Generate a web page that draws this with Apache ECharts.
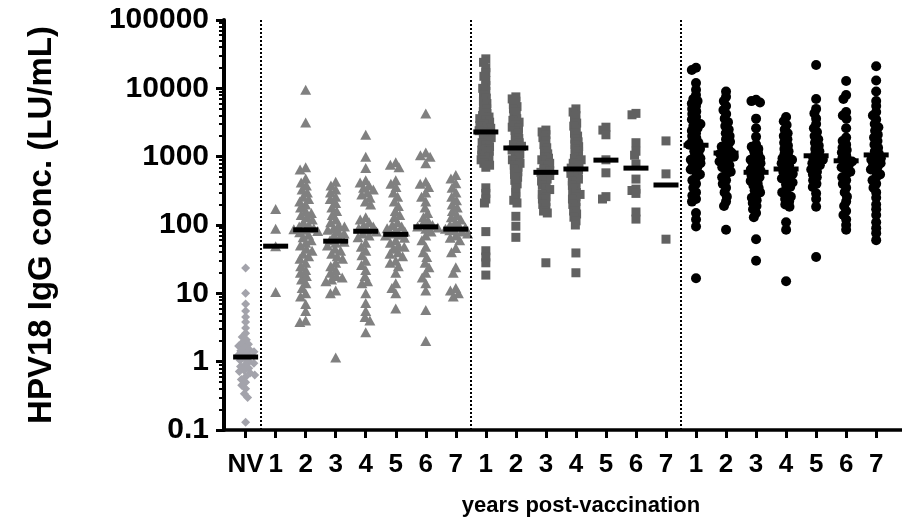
<!DOCTYPE html>
<html><head><meta charset="utf-8">
<script src="https://cdn.jsdelivr.net/npm/echarts@6/dist/echarts.min.js"></script>
<style>html,body{margin:0;padding:0;background:#fff}#c{width:902px;height:519px}</style>
</head><body><div id="c"></div>
<script>
// ---------------- data ----------------
const categories = ['NV','1','2','3','4','5','6','7','1','2','3','4','5','6','7','1','2','3','4','5','6','7'];
const yTicks = [0.1, 1, 10, 100, 1000, 10000, 100000];
const yMinorTicks = [0.2,0.3,0.4,0.5,0.6,0.7,0.8,0.9,2,3,4,5,6,7,8,9,20,30,40,50,60,70,80,90,200,300,400,500,600,700,800,900,2000,3000,4000,5000,6000,7000,8000,9000,20000,30000,40000,50000,60000,70000,80000,90000];

const nvValues = [23.5, 10, 7, 5.5, 4.5, 3.8, 3.1, 2.6, 2.3, 2.1, 1.9, 1.8, 1.7, 1.6, 1.5, 1.45, 1.4, 1.3, 1.25, 1.2, 1.1, 1.05, 1.0, 0.95, 0.9, 0.85, 0.8, 0.75, 0.72, 0.68, 0.64, 0.6, 0.55, 0.5, 0.45, 0.4, 0.34, 0.3, 0.13];

const tri1 = [171, 88, 49, 10.5];
const tri2 = [9500, 3150, 700, 650, 480, 420, 380, 330, 300, 260, 240, 220, 200, 180, 160, 150, 140, 130, 120, 110, 100, 95, 90, 87, 85, 82, 78, 72, 66, 60, 55, 50, 45, 42, 38, 35, 32, 28, 25, 22, 20, 18, 16, 14, 12, 10, 9, 7, 5.5, 4, 3.8];
const tri3 = [430, 380, 330, 300, 260, 240, 210, 180, 160, 140, 120, 110, 100, 95, 90, 85, 80, 75, 70, 65, 60, 57, 55, 50, 45, 42, 38, 35, 32, 28, 25, 22, 20, 18, 17, 16, 15, 11, 10, 1.15];
const tri4 = [2100, 1000, 680, 450, 420, 380, 350, 330, 300, 280, 250, 220, 200, 130, 120, 110, 100, 95, 90, 85, 80, 75, 70, 66, 55, 48, 42, 36, 30, 26, 22, 18, 15, 14, 10, 7.2, 5.5, 4.5, 4, 2.7];
const tri5 = [830, 760, 700, 450, 400, 360, 300, 260, 220, 190, 160, 140, 130, 110, 100, 95, 90, 85, 80, 75, 72, 70, 65, 60, 55, 50, 48, 45, 40, 38, 35, 30, 28, 25, 20, 14, 12, 10, 6];
const tri6 = [4300, 1150, 1050, 1000, 800, 430, 400, 360, 300, 260, 220, 180, 150, 130, 115, 105, 100, 95, 92, 88, 80, 70, 60, 48, 40, 34, 28, 24, 20, 17, 14, 11, 5.7, 2];
const tri7 = [540, 480, 410, 350, 300, 260, 230, 200, 180, 160, 140, 130, 120, 110, 100, 95, 92, 88, 86, 84, 80, 75, 70, 65, 60, 46, 40, 24, 20, 12, 11, 10, 9];

const sq1 = [27000, 24000, 20000, 17000, 15000, 13000, 11000, 10000, 9000, 8000, 7200, 6500, 6000, 5500, 5000, 4600, 4300, 4000, 3800, 3600, 3400, 3200, 3000, 2850, 2700, 2600, 2500, 2400, 2300, 2200, 2100, 2000, 1900, 1800, 1700, 1600, 1500, 1400, 1300, 1250, 1200, 1100, 1050, 1000, 950, 900, 850, 800, 750, 700, 350, 290, 240, 210, 80, 42, 34, 28, 18.5];
const sq2 = [7500, 7000, 6500, 5800, 5400, 5000, 4500, 4000, 3600, 3400, 3200, 2900, 2700, 2600, 2400, 2200, 2000, 1850, 1700, 1600, 1500, 1420, 1330, 1250, 1150, 1100, 1000, 950, 900, 850, 800, 750, 700, 650, 600, 550, 500, 450, 400, 350, 300, 260, 230, 210, 134, 96, 66];
const sq3 = [2450, 2300, 2100, 1900, 1700, 1500, 1350, 1200, 1100, 1000, 950, 900, 850, 800, 750, 700, 650, 620, 590, 560, 530, 500, 470, 440, 410, 380, 350, 330, 300, 280, 260, 240, 220, 200, 180, 160, 150, 28];
const sq4 = [5000, 4500, 4000, 3500, 3100, 2800, 2500, 2200, 2000, 1800, 1650, 1500, 1400, 1300, 1200, 1100, 1000, 950, 900, 850, 800, 750, 700, 680, 640, 600, 570, 540, 500, 470, 440, 410, 380, 350, 320, 300, 280, 260, 240, 220, 200, 180, 160, 145, 130, 115, 100, 39, 20];
const sq5 = [2700, 2450, 2090, 900, 580, 260, 240];
const sq6 = [4300, 4100, 1600, 1200, 1050, 780, 470, 335, 320, 290, 155, 122];
const sq7 = [1700, 560, 62];

const circ1 = [20000, 18500, 12000, 9500, 8000, 7000, 6500, 6000, 5500, 5000, 4600, 4200, 3800, 3500, 3200, 3000, 2800, 2600, 2400, 2200, 2000, 1850, 1700, 1600, 1500, 1400, 1300, 1200, 1100, 1000, 950, 900, 850, 800, 750, 700, 650, 600, 550, 500, 450, 400, 350, 300, 270, 240, 220, 150, 120, 95, 16.6];
const circ2 = [9000, 7500, 6500, 5500, 4800, 4200, 3600, 3200, 2800, 2500, 2200, 2000, 1800, 1650, 1500, 1400, 1300, 1200, 1150, 1100, 1050, 1000, 950, 900, 850, 800, 750, 700, 650, 600, 550, 500, 450, 400, 350, 300, 260, 220, 190, 85];
const circ3 = [6800, 6500, 6200, 3600, 2600, 1950, 1500, 1400, 1300, 1200, 1100, 1000, 950, 900, 850, 800, 750, 700, 650, 620, 560, 530, 500, 470, 440, 410, 380, 350, 320, 300, 270, 250, 230, 210, 190, 170, 150, 130, 62, 30];
const circ4 = [3800, 3300, 2900, 2500, 2200, 2000, 1800, 1600, 1450, 1300, 1200, 1100, 1000, 950, 900, 850, 800, 750, 700, 640, 600, 560, 520, 480, 450, 420, 390, 360, 330, 300, 280, 260, 240, 220, 200, 185, 110, 85, 15];
const circ5 = [22000, 7000, 5000, 4300, 3600, 3000, 2600, 2300, 2000, 1800, 1600, 1450, 1300, 1200, 1100, 1000, 950, 900, 850, 800, 750, 700, 650, 600, 550, 500, 450, 400, 360, 290, 240, 185, 34];
const circ6 = [12800, 8000, 7000, 4500, 4000, 3600, 2600, 1900, 1700, 1500, 1350, 1250, 1150, 1050, 950, 900, 850, 800, 750, 700, 650, 600, 550, 500, 450, 400, 350, 300, 260, 220, 190, 160, 140, 120, 100, 85];
const circ7 = [21000, 13000, 9000, 6500, 5500, 4500, 4000, 3500, 3000, 2700, 2400, 2100, 1900, 1700, 1500, 1350, 1200, 1100, 1000, 950, 900, 850, 800, 750, 700, 650, 600, 550, 500, 450, 400, 350, 300, 250, 200, 170, 140, 110, 90, 76, 60];

// geometric mean bars, per category
const geoMeans = [1.17, 49, 85, 58, 81, 73, 94, 87, 2300, 1340, 590, 660, 890, 680, 385, 1470, 1130, 590, 660, 1030, 870, 1060];

const triangleGroups = [tri1, tri2, tri3, tri4, tri5, tri6, tri7];
const squareGroups = [sq1, sq2, sq3, sq4, sq5, sq6, sq7];
const circleGroups = [circ1, circ2, circ3, circ4, circ5, circ6, circ7];

// ---------------- chart ----------------
const FONT = '"Liberation Sans", Arial, Helvetica, sans-serif';
// category k sits at x = k + 1 on a value axis (keeps 0 out of the range)
const pos = k => k + 1;
const xPositions = categories.map((_, i) => pos(i));
const separators = [pos(0) + 0.5, pos(7) + 0.5, pos(14) + 0.5];

const chart = echarts.init(document.getElementById('c'), null, {renderer: 'canvas'});
const base = {
  animation: false,
  grid: {left: 224, right: 0, top: 20, bottom: 89, containLabel: false, outerBoundsMode: 'none'},
  xAxis: {
    type: 'value', min: 0.28, max: 22.86,
    splitLine: {show: false},
    axisLine: {show: true, onZero: false, lineStyle: {color: '#000', width: 3.5}},
    axisTick: {show: true, customValues: xPositions, length: 8, inside: false, lineStyle: {color: '#000', width: 3}},
    axisLabel: {show: true, customValues: xPositions, formatter: v => categories[Math.round(v) - 1],
      fontFamily: FONT, fontWeight: 'bold', fontSize: 26, color: '#000', margin: 22},
    name: 'years post-vaccination', nameLocation: 'middle', nameGap: 65,
    nameTextStyle: {fontFamily: FONT, fontWeight: 'bold', fontSize: 22, color: '#000', padding: [0, 0, 0, 36]}
  },
  yAxis: [{
    type: 'log', logBase: 10, min: 0.1, max: 100000,
    splitLine: {show: false},
    axisLine: {show: true, onZero: false, lineStyle: {color: '#000', width: 4}},
    axisTick: {show: true, customValues: yTicks, length: 8, lineStyle: {color: '#000', width: 3}},
    axisLabel: {show: true, customValues: yTicks, formatter: v => String(Number(Number(v).toPrecision(6))),
      fontFamily: FONT, fontWeight: 'bold', fontSize: 30, color: '#000', margin: 15},
    name: 'HPV18 IgG conc. (LU/mL)', nameLocation: 'middle', nameRotate: 90, nameGap: 166,
    nameTextStyle: {fontFamily: FONT, fontWeight: 'bold', fontSize: 33, color: '#000'}
  }, {
    type: 'log', logBase: 10, min: 0.1, max: 100000, position: 'left', offset: 0,
    splitLine: {show: false},
    axisLine: {show: false, onZero: false},
    axisTick: {show: true, customValues: yMinorTicks, length: 5, lineStyle: {color: '#000', width: 2}},
    axisLabel: {show: false}
  }],
  series: []
};
chart.setOption(base);

let pxCat = 30.03, pxDec = 68.33;
try {
  const a = chart.convertToPixel({xAxisIndex: 0, yAxisIndex: 0}, [1, 1]);
  const b = chart.convertToPixel({xAxisIndex: 0, yAxisIndex: 0}, [2, 10]);
  if (a && b && isFinite(b[0] - a[0]) && isFinite(a[1] - b[1]) && b[0] - a[0] > 0) { pxCat = b[0] - a[0]; pxDec = a[1] - b[1]; }
} catch (e) {}

// deterministic beeswarm layout (pixel offsets), converted to axis units
function swarm(values, d, maxOff) {
  const pts = values.map(v => ({v, y: Math.log10(v) * pxDec, x: 0}));
  const order = pts.slice().sort((p, q) => q.v - p.v);
  const placed = [];
  order.forEach(p => {
    const cands = [0];
    placed.forEach(q => {
      const dy = p.y - q.y;
      if (Math.abs(dy) < d) { const dx = Math.sqrt(d * d - dy * dy); cands.push(q.x + dx, q.x - dx); }
    });
    cands.sort((s, t) => Math.abs(s) - Math.abs(t) || s - t);
    let x = null;
    for (const c of cands) {
      if (Math.abs(c) > maxOff) continue;
      if (placed.every(q => { const dy = p.y - q.y, dx = c - q.x; return dx * dx + dy * dy >= d * d - 1e-6; })) { x = c; break; }
    }
    if (x === null) {
      let best = 0, bestD = -1;
      for (let c = -maxOff; c <= maxOff; c += 0.5) {
        let m = Infinity;
        placed.forEach(q => { const dy = p.y - q.y, dx = c - q.x; m = Math.min(m, dx * dx + dy * dy); });
        if (m > bestD) { bestD = m; best = c; }
      }
      x = best;
    }
    p.x = x; placed.push(p);
  });
  return pts.map(p => p.x / pxCat);
}

function groupPoints(values, center, d, maxOff) {
  const offs = swarm(values, d, maxOff);
  return values.map((v, k) => [center + offs[k], v]);
}

const nvData = groupPoints(nvValues, pos(0), 5, 10);
let triData = [], sqData = [], circData = [];
triangleGroups.forEach((g, k) => { triData = triData.concat(groupPoints(g, pos(1 + k), 6, 12)); });
squareGroups.forEach((g, k) => { sqData = sqData.concat(groupPoints(g, pos(8 + k), 4.2, 10)); });
circleGroups.forEach((g, k) => { circData = circData.concat(groupPoints(g, pos(15 + k), 4.8, 10)); });

chart.setOption({
  series: [
    {type: 'scatter', name: 'NV', symbol: 'diamond', symbolSize: [9, 9], data: nvData,
      itemStyle: {color: '#a3a3ab', opacity: 1}, silent: true},
    {type: 'scatter', name: 'tri', symbol: 'triangle', symbolSize: [11, 10], data: triData,
      itemStyle: {color: '#808080', opacity: 1}, silent: true},
    {type: 'scatter', name: 'sq', symbol: 'rect', symbolSize: [9, 9], data: sqData,
      itemStyle: {color: '#616161', opacity: 1}, silent: true},
    {type: 'scatter', name: 'circ', symbol: 'circle', symbolSize: 10, data: circData,
      itemStyle: {color: '#000', opacity: 1}, silent: true},
    {type: 'scatter', name: 'gm', symbol: 'rect', symbolSize: [25, 5], z: 5,
      data: geoMeans.map((v, i) => [pos(i), v]), itemStyle: {color: '#000', opacity: 1}, silent: true,
      markLine: {silent: true, symbol: 'none', label: {show: false},
        lineStyle: {color: '#000', width: 2, type: [2, 2]},
        data: separators.map(s => ({xAxis: s}))}}
  ]
});
</script>
</body></html>
